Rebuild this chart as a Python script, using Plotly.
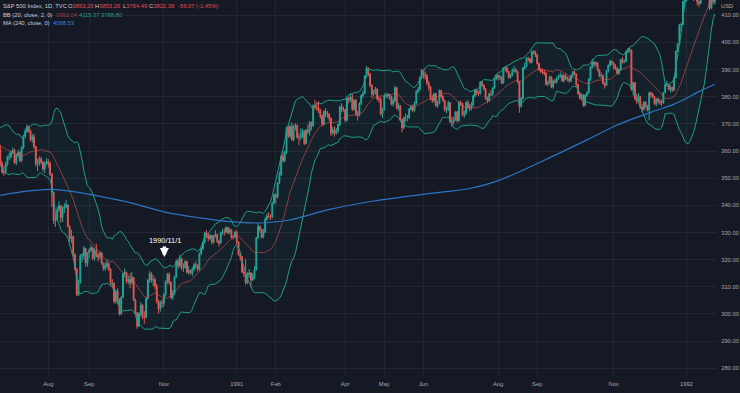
import pandas as pd
import plotly.graph_objects as go

# ---------------- data (S&P 500 daily) ----------------
holidays = ["1990-05-28", "1990-07-04", "1990-09-03", "1990-11-22", "1990-12-25",
            "1991-01-01", "1991-02-18", "1991-03-29", "1991-05-27", "1991-07-04",
            "1991-09-02", "1991-11-28", "1991-12-25", "1992-01-01"]
dates = [d for d in pd.bdate_range("1990-05-21", "1992-01-24")
         if d.strftime("%Y-%m-%d") not in holidays]

opens = [
    354.6, 358.0, 358.4, 359.3, 358.4, 354.6, 360.7, 360.9,
    361.2, 363.2, 367.4, 366.6, 365.0, 363.2, 358.7, 361.6, 366.3, 364.9, 362.9, 362.9, 356.9, 358.5, 359.1, 360.5, 355.4, 352.3, 352.1, 355.1, 357.6,
    358.0, 359.5, 360.2, 355.7, 358.4, 359.5, 356.5, 361.2, 365.4, 367.3, 369.0, 367.5, 364.2, 365.3, 361.6, 355.3, 355.8, 357.1, 355.9, 353.4, 355.5,
    356.2, 355.5, 351.5, 344.9, 334.4, 334.8, 338.4, 339.9, 335.5, 338.8, 339.4, 340.1, 332.4, 327.8, 328.5, 321.9, 316.6, 307.1, 311.5, 321.4, 321.4, 324.2, 318.7,
    322.6, 323.4, 324.4, 320.5, 323.4, 321.6, 321.0, 322.5, 318.7, 316.8, 317.8, 318.6, 316.6, 311.5, 311.3, 304.6, 308.3, 305.1, 300.0,
    306.1, 314.9, 315.2, 312.0, 312.7, 311.5, 313.5, 305.1, 300.4, 295.5, 300.0, 303.2, 298.9, 298.8, 305.7, 312.5, 314.8, 312.4, 312.6, 310.2, 304.7, 301.9, 304.1,
    304.0, 307.0, 311.9, 314.6, 311.6, 306.0, 307.6, 313.7, 319.5, 317.7, 320.4, 317.0, 317.1, 319.3, 315.3, 316.0, 315.1, 316.5, 318.1, 317.9, 316.4,
    322.2, 324.1, 326.4, 329.9, 329.1, 327.8, 328.9, 326.4, 328.7, 329.3, 326.8, 326.0, 330.0, 330.2, 330.1, 331.8, 329.9, 331.0, 328.3, 328.3,
    330.2, 326.5, 321.9, 321.0, 315.4, 314.9, 311.5, 314.5, 315.2, 312.5, 313.7, 316.2, 328.0, 332.2, 331.1, 328.3, 330.2, 334.8, 336.1, 336.0, 335.8, 340.9,
    343.9, 343.1, 348.3, 351.3, 358.1, 356.5, 359.4, 368.6, 365.5, 369.0, 364.2, 369.1, 369.4, 365.1, 365.0, 365.7, 367.3, 362.8, 367.7,
    367.1, 370.5, 369.3, 376.7, 376.2, 375.9, 375.0, 373.0, 370.0, 374.6, 373.5, 373.6, 372.1, 366.6, 367.9, 366.6, 367.5, 369.8, 376.3, 375.4,
    375.2, 371.3, 379.5, 378.9, 379.8, 375.4, 378.7, 373.6, 373.2, 377.6, 380.4, 381.2, 387.6, 390.5, 388.5, 384.2, 381.0, 381.8, 382.8, 379.3, 379.0, 373.7,
    375.3, 380.3, 380.5, 380.8, 380.1, 377.3, 378.5, 383.3, 375.7, 376.8, 371.6, 368.6, 372.2, 372.4, 372.3, 375.4, 376.2, 375.0, 377.5, 381.9, 382.8, 387.0,
    389.8, 388.1, 387.7, 385.1, 383.6, 379.4, 378.6, 381.1, 376.7, 377.6, 382.3, 380.1, 378.6, 375.1, 375.4, 377.8, 370.9, 370.7, 371.6, 374.4,
    371.2, 377.9, 377.5, 373.3, 374.1, 377.9, 376.1, 375.7, 377.0, 380.3, 382.4, 381.5, 381.2, 385.4, 384.2, 382.9, 379.4, 378.6, 381.0, 380.9, 383.2, 386.7,
    387.8, 387.1, 387.2, 385.1, 390.6, 390.6, 389.3, 387.1, 388.0, 389.6, 389.9, 389.3, 385.6, 376.5, 379.4, 390.6, 391.3, 394.2, 393.9, 392.7, 396.6, 396.5,
    395.4, 392.2, 390.0, 389.1, 389.1, 388.6, 384.6, 385.1, 387.3, 383.6, 385.8, 385.5, 386.9, 387.6, 387.9, 385.9, 387.7, 386.9, 386.5, 385.9,
    387.9, 389.2, 388.3, 384.5, 381.3, 379.5, 380.7, 376.8, 380.6, 381.5, 386.5, 391.0, 392.8, 391.9, 392.5, 390.0, 387.8, 387.9, 385.1, 384.2, 389.5, 391.5, 393.0,
    392.5, 391.3, 390.3, 388.7, 390.0, 393.7, 392.9, 393.1, 396.7, 397.4, 397.2, 382.6, 385.2, 379.4, 378.5, 380.1, 376.1, 375.3, 378.0, 376.6,
    375.2, 381.4, 381.0, 380.1, 377.4, 379.1, 378.3, 377.9, 377.7, 381.6, 384.5, 384.5, 382.7, 383.5, 382.5, 387.0, 396.8, 399.3, 406.5, 406.6, 415.1,
    417.1, 417.3, 419.3, 418.0, 417.4, 418.1, 417.6, 415.1, 414.3, 420.4, 420.8, 419.9, 418.9, 416.4, 412.6, 418.1, 415.0,
]
highs = [
    358.9, 359.6, 360.5, 360.0, 358.6, 361.2, 362.0, 362.3,
    364.1, 367.9, 368.8, 367.1, 366.2, 364.0, 362.1, 366.8, 367.3, 365.6, 364.3, 363.4, 359.6, 360.6, 361.4, 362.3, 356.3, 354.4, 356.0, 358.4, 359.4,
    360.2, 361.3, 360.9, 359.0, 360.5, 360.0, 361.8, 366.0, 368.3, 369.8, 369.4, 367.9, 366.2, 366.4, 361.9, 357.2, 358.0, 357.9, 356.3, 356.0, 357.4,
    357.0, 356.1, 351.9, 344.9, 336.8, 339.5, 341.5, 339.9, 339.6, 340.8, 341.9, 340.3, 332.4, 331.0, 328.9, 322.3, 316.8, 312.6, 322.1, 322.4, 325.0, 324.4, 322.8,
    324.2, 325.5, 324.6, 324.2, 325.9, 322.4, 323.0, 322.9, 318.9, 319.1, 320.1, 318.9, 316.8, 312.8, 311.6, 309.0, 309.4, 305.7, 306.5,
    315.2, 316.8, 315.6, 314.0, 315.0, 315.5, 313.5, 305.6, 300.7, 300.6, 304.4, 303.6, 301.0, 306.0, 312.9, 315.8, 315.4, 314.3, 313.4, 311.0, 305.2, 304.9, 305.3,
    307.8, 312.4, 315.1, 315.3, 312.0, 308.8, 314.1, 319.9, 319.9, 321.9, 320.8, 318.6, 319.8, 319.6, 317.6, 316.3, 317.2, 318.7, 319.4, 318.3, 322.6,
    324.6, 326.9, 330.3, 330.8, 329.8, 329.4, 329.1, 329.2, 330.8, 329.5, 327.1, 330.4, 331.2, 331.5, 332.3, 332.0, 331.8, 331.3, 329.2, 330.6,
    330.8, 326.8, 322.9, 321.3, 317.0, 320.2, 315.4, 316.5, 315.2, 315.0, 317.6, 328.4, 333.4, 332.6, 331.5, 331.4, 335.6, 337.0, 337.4, 336.6, 341.3, 344.3,
    344.4, 348.6, 352.4, 358.5, 359.8, 360.2, 369.0, 369.3, 369.6, 370.5, 369.7, 370.3, 369.8, 366.6, 368.4, 368.2, 367.6, 368.1, 369.6,
    371.0, 370.9, 377.2, 378.9, 378.1, 378.4, 375.6, 373.4, 375.0, 375.9, 374.8, 373.9, 372.3, 368.9, 369.1, 368.5, 370.3, 376.8, 377.6, 376.4,
    375.5, 379.8, 380.1, 381.0, 381.3, 379.0, 379.2, 374.8, 378.0, 380.9, 382.3, 387.9, 391.3, 390.8, 388.6, 384.6, 382.6, 383.6, 383.1, 380.3, 379.8, 375.9,
    381.2, 381.5, 381.4, 381.1, 380.4, 379.6, 384.0, 383.6, 377.7, 376.9, 371.9, 372.8, 373.8, 373.3, 375.9, 377.0, 377.1, 378.2, 382.3, 383.6, 387.5, 390.2,
    390.0, 389.3, 388.4, 385.9, 384.0, 380.7, 381.6, 381.4, 378.6, 382.7, 382.6, 380.6, 378.9, 376.4, 378.6, 378.0, 372.8, 372.5, 374.8, 374.8,
    378.4, 378.6, 377.8, 375.0, 378.3, 378.9, 377.4, 378.1, 380.8, 383.0, 382.9, 382.0, 385.8, 385.9, 384.6, 383.2, 380.1, 381.5, 382.4, 383.7, 387.0, 388.3,
    388.2, 388.2, 387.6, 390.9, 391.3, 391.2, 389.6, 388.5, 390.4, 391.4, 390.5, 389.6, 385.6, 379.9, 391.0, 392.5, 394.6, 394.7, 394.2, 397.0, 397.1, 397.0,
    395.8, 392.6, 390.6, 390.4, 390.0, 389.1, 386.0, 387.8, 387.6, 386.4, 386.5, 387.4, 388.2, 389.0, 388.4, 388.3, 388.6, 387.5, 387.3, 388.2,
    389.5, 389.7, 388.6, 384.6, 381.7, 381.2, 380.8, 380.9, 382.0, 386.8, 391.3, 394.0, 392.9, 393.0, 392.6, 390.2, 389.0, 388.1, 385.4, 389.8, 391.9, 393.6, 393.5,
    392.8, 392.0, 391.0, 390.5, 394.0, 394.6, 393.7, 397.0, 397.9, 398.2, 397.4, 385.5, 385.4, 381.1, 381.3, 380.4, 377.2, 378.4, 378.4, 377.0,
    381.8, 381.9, 381.4, 380.3, 379.6, 379.8, 379.2, 378.9, 381.8, 384.8, 385.9, 384.6, 384.3, 383.7, 387.3, 397.0, 399.8, 406.8, 407.3, 415.4, 418.3,
    418.0, 419.8, 420.0, 418.5, 419.2, 418.8, 417.9, 415.5, 420.6, 421.2, 421.0, 420.0, 419.0, 416.8, 418.5, 418.3, 416.8,
]
lows = [
    354.2, 356.9, 357.6, 357.3, 353.8, 354.3, 359.4, 359.8,
    360.5, 362.6, 365.7, 364.2, 362.3, 357.8, 357.9, 360.8, 364.1, 362.2, 361.8, 356.4, 355.8, 357.4, 358.4, 354.6, 351.6, 350.9, 351.5, 354.4, 356.5,
    357.2, 358.9, 355.2, 354.8, 357.5, 355.9, 355.9, 360.7, 364.6, 366.6, 366.8, 363.5, 363.1, 360.8, 354.3, 352.6, 354.6, 355.0, 352.5, 351.9, 354.8,
    353.9, 350.8, 339.4, 333.1, 332.0, 334.1, 337.6, 333.7, 333.9, 337.2, 338.9, 331.9, 326.6, 326.1, 321.2, 316.0, 306.6, 306.5, 311.2, 319.0, 320.0, 317.5, 317.3,
    320.6, 322.9, 319.9, 319.6, 320.8, 319.3, 320.2, 318.1, 315.9, 315.8, 316.6, 315.8, 310.9, 309.3, 303.9, 303.8, 303.5, 299.4, 299.6,
    305.8, 313.4, 311.2, 310.9, 309.4, 310.8, 304.7, 299.8, 294.5, 295.3, 299.0, 298.1, 296.4, 298.3, 305.2, 311.4, 311.6, 310.3, 309.1, 303.9, 300.2, 300.8, 302.2,
    302.6, 306.4, 311.0, 310.8, 305.6, 305.1, 306.9, 313.2, 316.6, 317.0, 316.1, 315.5, 316.6, 314.9, 314.4, 314.6, 313.8, 315.7, 316.8, 315.6, 316.0,
    321.6, 323.5, 325.8, 328.0, 326.7, 327.2, 325.6, 326.0, 328.1, 326.1, 324.8, 325.8, 329.2, 328.8, 329.7, 329.3, 329.5, 327.7, 327.4, 327.9,
    325.6, 321.5, 319.6, 315.0, 313.6, 310.6, 311.0, 313.4, 309.9, 312.1, 312.8, 316.0, 327.7, 329.9, 327.7, 327.8, 329.8, 334.4, 335.3, 334.5, 335.2, 340.4,
    340.7, 342.5, 347.8, 350.8, 355.7, 355.9, 359.0, 364.8, 364.8, 363.8, 363.6, 367.6, 364.5, 362.2, 363.9, 364.8, 362.2, 362.4, 366.3,
    365.8, 367.7, 368.9, 375.3, 374.8, 374.0, 372.0, 369.3, 369.5, 372.5, 372.2, 371.0, 365.5, 366.0, 365.3, 366.0, 366.7, 369.2, 374.3, 374.5,
    370.6, 370.9, 377.6, 378.1, 374.7, 374.9, 372.9, 371.2, 372.8, 376.9, 379.6, 380.9, 387.0, 387.6, 383.5, 379.6, 380.1, 380.8, 378.6, 377.8, 373.0, 372.1,
    374.9, 379.5, 379.2, 378.9, 376.8, 376.4, 378.0, 375.3, 374.8, 371.1, 366.9, 368.0, 370.8, 370.9, 371.8, 374.8, 374.3, 374.5, 377.1, 381.2, 382.2, 386.4,
    386.7, 386.3, 384.4, 382.4, 378.8, 377.7, 377.8, 376.2, 375.9, 377.2, 379.4, 378.0, 374.5, 373.9, 374.8, 370.3, 368.9, 369.8, 371.1, 370.6,
    370.8, 376.6, 372.8, 372.2, 373.2, 375.5, 374.7, 375.0, 376.3, 379.8, 380.6, 380.3, 380.8, 383.6, 382.3, 378.9, 377.6, 378.1, 380.2, 380.3, 382.8, 386.1,
    386.0, 386.2, 384.6, 384.7, 389.3, 388.6, 386.6, 386.7, 387.5, 389.0, 388.6, 384.9, 374.1, 376.0, 379.0, 390.0, 390.8, 393.0, 392.2, 392.3, 395.6, 394.6,
    391.8, 389.6, 388.7, 388.3, 387.9, 384.2, 383.9, 384.8, 383.1, 383.0, 384.8, 384.9, 386.3, 386.9, 385.4, 385.3, 386.2, 385.6, 385.2, 385.4,
    387.2, 387.8, 383.8, 380.6, 378.9, 378.5, 376.3, 376.4, 379.9, 381.1, 385.9, 390.4, 390.8, 391.1, 389.3, 387.1, 386.6, 384.5, 383.0, 384.0, 388.9, 390.9, 391.7,
    390.1, 389.8, 388.2, 388.0, 389.7, 392.2, 392.3, 392.7, 395.9, 396.2, 382.2, 380.4, 378.6, 377.3, 377.9, 375.6, 374.2, 374.9, 375.9, 374.6,
    371.4, 379.6, 379.5, 376.9, 376.5, 377.5, 377.0, 376.5, 377.4, 381.2, 383.6, 382.3, 381.6, 381.8, 382.0, 386.7, 396.5, 399.0, 404.1, 406.4, 413.5,
    415.0, 416.4, 417.0, 416.0, 415.3, 416.0, 413.7, 413.0, 414.1, 418.9, 419.1, 418.0, 415.9, 411.9, 412.3, 414.0, 414.0,
]
closes = [
    358.0, 358.4, 359.3, 358.4, 354.6, 360.7, 360.9, 361.2,
    363.2, 367.4, 366.6, 365.0, 363.2, 358.7, 361.6, 366.3, 364.9, 362.9, 362.9, 356.9, 358.5, 359.1, 360.5, 355.4, 352.3, 352.1, 355.1, 357.6, 358.0,
    359.5, 360.2, 355.7, 358.4, 359.5, 356.5, 361.2, 365.4, 367.3, 369.0, 367.5, 364.2, 365.3, 361.6, 355.3, 355.8, 357.1, 355.9, 353.4, 355.5, 356.2,
    355.5, 351.5, 344.9, 334.4, 334.8, 338.4, 339.9, 335.5, 338.8, 339.4, 340.1, 332.4, 327.8, 328.5, 321.9, 316.6, 307.1, 311.5, 321.4, 321.4, 324.2, 318.7, 322.6,
    323.4, 324.4, 320.5, 323.4, 321.6, 321.0, 322.5, 318.7, 316.8, 317.8, 318.6, 316.6, 311.5, 311.3, 304.6, 308.3, 305.1, 300.0, 306.1,
    314.9, 315.2, 312.0, 312.7, 311.5, 313.5, 305.1, 300.4, 295.5, 300.0, 303.2, 298.9, 298.8, 305.7, 312.5, 314.8, 312.4, 312.6, 310.2, 304.7, 301.9, 304.1, 304.0,
    307.0, 311.9, 314.6, 311.6, 306.0, 307.6, 313.7, 319.5, 317.7, 320.4, 317.0, 317.1, 319.3, 315.3, 316.0, 315.1, 316.5, 318.1, 317.9, 316.4, 322.2,
    324.1, 326.4, 329.9, 329.1, 327.8, 328.9, 326.4, 328.7, 329.3, 326.8, 326.0, 330.0, 330.2, 330.1, 331.8, 329.9, 331.0, 328.3, 328.3, 330.2,
    326.5, 321.9, 321.0, 315.4, 314.9, 311.5, 314.5, 315.2, 312.5, 313.7, 316.2, 328.0, 332.2, 331.1, 328.3, 330.2, 334.8, 336.1, 336.0, 335.8, 340.9, 343.9,
    343.1, 348.3, 351.3, 358.1, 356.5, 359.4, 368.6, 365.5, 369.0, 364.2, 369.1, 369.4, 365.1, 365.0, 365.7, 367.3, 362.8, 367.7, 367.1,
    370.5, 369.3, 376.7, 376.2, 375.9, 375.0, 373.0, 370.0, 374.6, 373.5, 373.6, 372.1, 366.6, 367.9, 366.6, 367.5, 369.8, 376.3, 375.4, 375.2,
    371.3, 379.5, 378.9, 379.8, 375.4, 378.7, 373.6, 373.2, 377.6, 380.4, 381.2, 387.6, 390.5, 388.5, 384.2, 381.0, 381.8, 382.8, 379.3, 379.0, 373.7, 375.3,
    380.3, 380.5, 380.8, 380.1, 377.3, 378.5, 383.3, 375.7, 376.8, 371.6, 368.6, 372.2, 372.4, 372.3, 375.4, 376.2, 375.0, 377.5, 381.9, 382.8, 387.0, 389.8,
    388.1, 387.7, 385.1, 383.6, 379.4, 378.6, 381.1, 376.7, 377.6, 382.3, 380.1, 378.6, 375.1, 375.4, 377.8, 370.9, 370.7, 371.6, 374.4, 371.2,
    377.9, 377.5, 373.3, 374.1, 377.9, 376.1, 375.7, 377.0, 380.3, 382.4, 381.5, 381.2, 385.4, 384.2, 382.9, 379.4, 378.6, 381.0, 380.9, 383.2, 386.7, 387.8,
    387.1, 387.2, 385.1, 390.6, 390.6, 389.3, 387.1, 388.0, 389.6, 389.9, 389.3, 385.6, 376.5, 379.4, 390.6, 391.3, 394.2, 393.9, 392.7, 396.6, 396.5, 395.4,
    392.2, 390.0, 389.1, 389.1, 388.6, 384.6, 385.1, 387.3, 383.6, 385.8, 385.5, 386.9, 387.6, 387.9, 385.9, 387.7, 386.9, 386.5, 385.9, 387.9,
    389.2, 388.3, 384.5, 381.3, 379.5, 380.7, 376.8, 380.6, 381.5, 386.5, 391.0, 392.8, 391.9, 392.5, 390.0, 387.8, 387.9, 385.1, 384.2, 389.5, 391.5, 393.0, 392.5,
    391.3, 390.3, 388.7, 390.0, 393.7, 392.9, 393.1, 396.7, 397.4, 397.2, 382.6, 385.2, 379.4, 378.5, 380.1, 376.1, 375.3, 378.0, 376.6, 375.2,
    381.4, 381.0, 380.1, 377.4, 379.1, 378.3, 377.9, 377.7, 381.6, 384.5, 384.5, 382.7, 383.5, 382.5, 387.0, 396.8, 399.3, 406.5, 406.6, 415.1, 417.1,
    417.3, 419.3, 418.0, 417.4, 418.1, 417.6, 415.1, 414.3, 420.4, 420.8, 419.9, 418.9, 416.4, 412.6, 418.1, 415.0, 415.5,
]

# 240-day moving average at these dates
ma240_dates = ["1990-06-22", "1990-07-16", "1990-08-02", "1990-08-24", "1990-09-12",
               "1990-10-05", "1990-11-05", "1990-11-30", "1990-12-26", "1991-01-18",
               "1991-02-12", "1991-03-15", "1991-04-23", "1991-06-07", "1991-07-10",
               "1991-08-02", "1991-09-09", "1991-10-11", "1991-11-05", "1991-12-04",
               "1991-12-19", "1991-12-31", "1992-01-13", "1992-01-24"]
ma240_values = [343.7, 345.2, 345.9, 344.8, 343.3,
                341.0, 337.3, 335.4, 334.0, 333.5,
                334.5, 338.3, 341.6, 344.4, 346.2,
                349.3, 356.6, 364.1, 369.6, 374.5,
                377.0, 379.1, 381.9, 384.6]

tick_months = ["1990-08", "1990-09", "1990-11", "1991-01", "1991-02", "1991-04",
               "1991-05", "1991-06", "1991-08", "1991-09", "1991-11", "1992-01"]
tick_labels = ["Aug", "Sep", "Nov", "1991", "Feb", "Apr", "May", "Jun", "Aug", "Sep", "Nov", "1992"]
price_ticks = list(range(280, 411, 10))

annot_date = "1990-11-01"
annot_text = "1990/11/1"

header_lines = [
    [("S&amp;P 500 Index, 1D, TVC", None, 1), ("O|3853.26", "r", 66), ("H|3853.26", "r", 93),
     ("L|3764.49", "r", 121), ("C|3822.38", "r", 147), ("|-56.07 (-1.45%)", "r", 176)],
    [("BB (20, close, 2, 0)", None, 1), ("|3952.04", "dr", 54), ("|4115.37", "t", 77), ("|3788.80", "t", 99)],
    [("MA (240, close, 0)", None, 1), ("|4088.53", "b", 51)],
]

# ---------------- derived ----------------
n = len(dates)
assert len(opens) == n and len(highs) == n and len(lows) == n and len(closes) == n, \
    (n, len(opens), len(highs), len(lows), len(closes))
pos = list(range(n))
date_str = [d.strftime("%Y-%m-%d") for d in dates]
idx_of = {s: i for i, s in enumerate(date_str)}


def first_index_of_month(ym):
    for i, s in enumerate(date_str):
        if s.startswith(ym):
            return i
    return None


s = pd.Series(closes)
basis = s.rolling(20).mean()
sd = s.rolling(20).std(ddof=0)
upper = basis + 2 * sd
lower = basis - 2 * sd

ma_pos = [idx_of[d] for d in ma240_dates]

# ---------------- styling ----------------
BG = "#151924"
GRID = "rgba(50,55,68,0.45)"
TXT = "#a3a6af"
UP = "#26a69a"
DN = "#ef5350"
BAND = "#1f9e88"
FONT = "Liberation Sans, Arial, sans-serif"

W, H = 740, 393
ML, MR, MT, MB = 0, 24, 0, 18
PW, PH = W - ML - MR, H - MT - MB
px_per_bar = 1.7777
i_aug = first_index_of_month("1990-08")
x0 = i_aug - 48.3 / px_per_bar
x1 = x0 + PW / px_per_bar

fig = go.Figure()

fig.add_trace(go.Candlestick(
    x=pos, open=opens, high=highs, low=lows, close=closes,
    increasing=dict(line=dict(color=UP, width=1), fillcolor=UP),
    decreasing=dict(line=dict(color=DN, width=1), fillcolor=DN),
    whiskerwidth=0, hoverinfo="skip", showlegend=False,
))

fig.add_trace(go.Scatter(x=pos, y=lower, mode="lines",
                         line=dict(color=BAND, width=1), hoverinfo="skip", showlegend=False))
fig.add_trace(go.Scatter(x=pos, y=upper, mode="lines", fill="tonexty",
                         fillcolor="rgba(38,166,154,0.06)",
                         line=dict(color=BAND, width=1), hoverinfo="skip", showlegend=False))
fig.add_trace(go.Scatter(x=pos, y=basis, mode="lines",
                         line=dict(color="rgba(239,83,80,0.55)", width=1),
                         hoverinfo="skip", showlegend=False))
fig.add_trace(go.Scatter(x=ma_pos, y=ma240_values, mode="lines",
                         line=dict(color="#2c74c4", width=1.2, shape="spline", smoothing=0.8),
                         hoverinfo="skip", showlegend=False))

tickvals = [first_index_of_month(m) for m in tick_months]

fig.update_layout(
    width=W, height=H,
    margin=dict(l=ML, r=MR, t=MT, b=MB, pad=0),
    paper_bgcolor=BG, plot_bgcolor=BG,
    font=dict(family=FONT, size=6, color=TXT),
    showlegend=False, hovermode=False,
    xaxis=dict(range=[x0, x1], tickmode="array", tickvals=tickvals, ticktext=tick_labels,
               showgrid=True, gridcolor=GRID, gridwidth=1, zeroline=False, showline=False,
               ticks="outside", ticklen=3, tickcolor=BG,
               tickfont=dict(size=5.8, color=TXT), rangeslider=dict(visible=False),
               fixedrange=True),
    yaxis=dict(side="right", range=[277.5, 415.64], tickmode="array", tickvals=price_ticks,
               ticktext=["%.2f" % v for v in price_ticks], showgrid=True, gridcolor=GRID,
               gridwidth=1, zeroline=False, showline=False, ticks="outside", ticklen=3,
               tickcolor=BG, tickfont=dict(size=5.8, color=TXT), fixedrange=True),
)

# "USD" label above the price scale
fig.add_annotation(xref="paper", yref="paper", x=1, y=1 - 5.7 / PH, xanchor="left", yanchor="middle",
                   xshift=3, text="USD", showarrow=False, font=dict(size=5.8, color=TXT, family=FONT))

# header legend
colors = {None: "#c9ccd4", "r": "#e5474f", "dr": "#9c3b44", "t": "#22a08b", "b": "#2f86de"}
line_y = [6.0, 15.0, 23.5]
for li, pieces in enumerate(header_lines):
    for txt, ckey, xpx in pieces:
        if "|" in txt:
            lab, val = txt.split("|")
            t = (f'<span style="color:#c9ccd4">{lab}</span>' if lab else "") + \
                f'<span style="color:{colors[ckey]}">{val}</span>'
        else:
            t = txt
        fig.add_annotation(xref="paper", yref="paper", x=xpx / PW, y=1 - line_y[li] / PH,
                           xanchor="left", yanchor="middle", text=t, showarrow=False,
                           font=dict(size=5.8, color=colors[None], family=FONT))

# event marker
ai = idx_of[annot_date]
fig.add_annotation(x=ai + 0.6, y=327.0, xref="x", yref="y", text=annot_text, showarrow=False,
                   font=dict(size=7.4, color="#ffffff", family=FONT), xanchor="center", yanchor="middle")
fig.add_annotation(x=ai + 0.3, y=321.0, xref="x", yref="y", text="", showarrow=True,
                   ax=0, ay=-12, arrowhead=2, arrowsize=0.5, arrowwidth=3.6, arrowcolor="#ffffff")

fig.write_html("out.html", config={"displayModeBar": False, "staticPlot": True},
               post_script="document.body.style.margin='0';document.body.style.overflow='hidden';")
